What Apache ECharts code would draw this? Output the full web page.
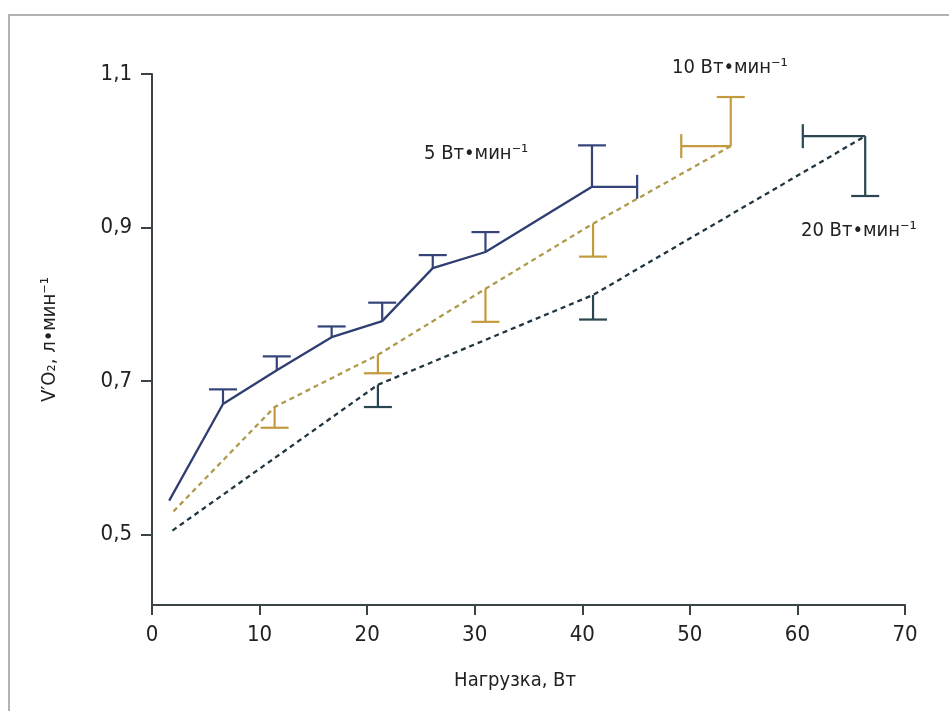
<!DOCTYPE html>
<html>
<head>
<meta charset="utf-8">
<script src="https://cdn.jsdelivr.net/npm/echarts@6/dist/echarts.min.js"></script>
<style>
  html, body { margin: 0; padding: 0; background: #fff; }
  #chart { width: 949px; height: 711px; }
</style>
</head>
<body>
<div id="chart"></div>
<script>
  // 5 Вт·мин⁻¹ protocol
  const rate5X = [1.6, 6.6, 11.6, 16.7, 21.4, 26.1, 31.0, 40.9]
  const rate5Y = [0.544, 0.670, 0.714, 0.757, 0.778, 0.847, 0.868, 0.953]
  const rate5ErrY = [null, 0.689, 0.732, 0.771, 0.802, 0.864, 0.894, 1.007]
  const rate5ErrX = [null, null, null, null, null, null, null, 45.1]

  // 10 Вт·мин⁻¹ protocol
  const rate10X = [2.0, 11.4, 21.0, 31.0, 41.0, 53.8]
  const rate10Y = [0.530, 0.666, 0.734, 0.820, 0.905, 1.006]
  const rate10ErrY = [null, 0.639, 0.710, 0.777, 0.862, 1.070]
  const rate10ErrX = [null, null, null, null, null, 49.2]

  // 20 Вт·мин⁻¹ protocol
  const rate20X = [1.9, 21.0, 41.0, 66.3]
  const rate20Y = [0.505, 0.695, 0.812, 1.019]
  const rate20ErrY = [null, 0.666, 0.780, 0.941]
  const rate20ErrX = [null, null, null, 60.5]

  const yTicks = [0.5, 0.7, 0.9, 1.1]

  const FONT = '"Liberation Sans Narrow", "DejaVu Sans Condensed", Roboto, sans-serif'
  const TEXT = '#222222'
  const AXIS = '#3a4448'

  const chart = echarts.init(document.getElementById('chart'))

  const toPairs = (xs, ys) => xs.map((x, i) => [x, ys[i]])

  const errorSeries = (xs, ys, errY, errX, color) => ({
    type: 'custom',
    data: toPairs(xs, ys),
    silent: true,
    z: 3,
    renderItem: (params, api) => {
      const i = params.dataIndex
      const p = api.coord([xs[i], ys[i]])
      const style = { stroke: color, lineWidth: 2.2 }
      const kids = []
      if (errY[i] != null) {
        const e = api.coord([xs[i], errY[i]])
        kids.push({ type: 'line', shape: { x1: p[0], y1: p[1], x2: e[0], y2: e[1] }, style })
        kids.push({ type: 'line', shape: { x1: e[0] - 14, y1: e[1], x2: e[0] + 14, y2: e[1] }, style })
      }
      if (errX[i] != null) {
        const e = api.coord([errX[i], ys[i]])
        kids.push({ type: 'line', shape: { x1: p[0], y1: p[1], x2: e[0], y2: e[1] }, style })
        kids.push({ type: 'line', shape: { x1: e[0], y1: e[1] - 12, x2: e[0], y2: e[1] + 12 }, style })
      }
      return { type: 'group', children: kids }
    }
  })

  const lineSeries = (xs, ys, color, dashed) => ({
    type: 'line',
    data: toPairs(xs, ys),
    showSymbol: false,
    silent: true,
    z: 2,
    lineStyle: { color, width: 2.3, type: dashed ? [5, 4] : 'solid' }
  })

  const option = {
    animation: false,
    backgroundColor: '#fff',
    grid: { left: 152, right: 44, top: 74, bottom: 106 },
    xAxis: {
      type: 'value',
      min: 0,
      max: 70,
      interval: 10,
      name: 'Нагрузка, Вт',
      nameLocation: 'middle',
      nameGap: 66,
      nameTextStyle: { color: TEXT, fontFamily: FONT, fontSize: 20, padding: [0, 27, 0, 0] },
      splitLine: { show: false },
      axisLine: { lineStyle: { color: AXIS, width: 2 } },
      axisTick: { inside: false, length: 10, lineStyle: { color: AXIS, width: 2 } },
      axisLabel: { color: TEXT, fontFamily: FONT, fontSize: 22, margin: 19 }
    },
    yAxis: {
      type: 'value',
      min: 0.408,
      max: 1.1,
      name: "V′O₂, л•мин⁻¹",
      nameLocation: 'middle',
      nameGap: 92,
      nameRotate: 90,
      nameTextStyle: { color: TEXT, fontFamily: FONT, fontSize: 20 },
      splitLine: { show: false },
      axisLine: { show: true, lineStyle: { color: AXIS, width: 2 } },
      axisTick: { show: true, length: 11, customValues: yTicks, lineStyle: { color: AXIS, width: 2 } },
      axisLabel: {
        color: TEXT, fontFamily: FONT, fontSize: 22, margin: 20,
        customValues: yTicks,
        formatter: (v) => v.toFixed(1).replace('.', ',')
      }
    },
    graphic: [
      {
        type: 'rect', silent: true, z: -1,
        shape: { x: 9, y: 15, width: 1000, height: 800 },
        style: { fill: 'none', stroke: '#b3b3b3', lineWidth: 2 }
      },
      {
        type: 'text', left: 424, top: 144,
        style: { text: '5 Вт•мин⁻¹', fill: TEXT, font: '20px ' + FONT }
      },
      {
        type: 'text', left: 672, top: 58,
        style: { text: '10 Вт•мин⁻¹', fill: TEXT, font: '20px ' + FONT }
      },
      {
        type: 'text', left: 801, top: 221,
        style: { text: '20 Вт•мин⁻¹', fill: TEXT, font: '20px ' + FONT }
      }
    ],
    series: [
      lineSeries(rate5X, rate5Y, '#2f3e72', false),
      lineSeries(rate10X, rate10Y, '#ad9a4a', true),
      lineSeries(rate20X, rate20Y, '#213640', true),
      errorSeries(rate5X, rate5Y, rate5ErrY, rate5ErrX, '#34447a'),
      errorSeries(rate10X, rate10Y, rate10ErrY, rate10ErrX, '#c49a3e'),
      errorSeries(rate20X, rate20Y, rate20ErrY, rate20ErrX, '#2a4550')
    ]
  }

  chart.setOption(option)
</script>
</body>
</html>
